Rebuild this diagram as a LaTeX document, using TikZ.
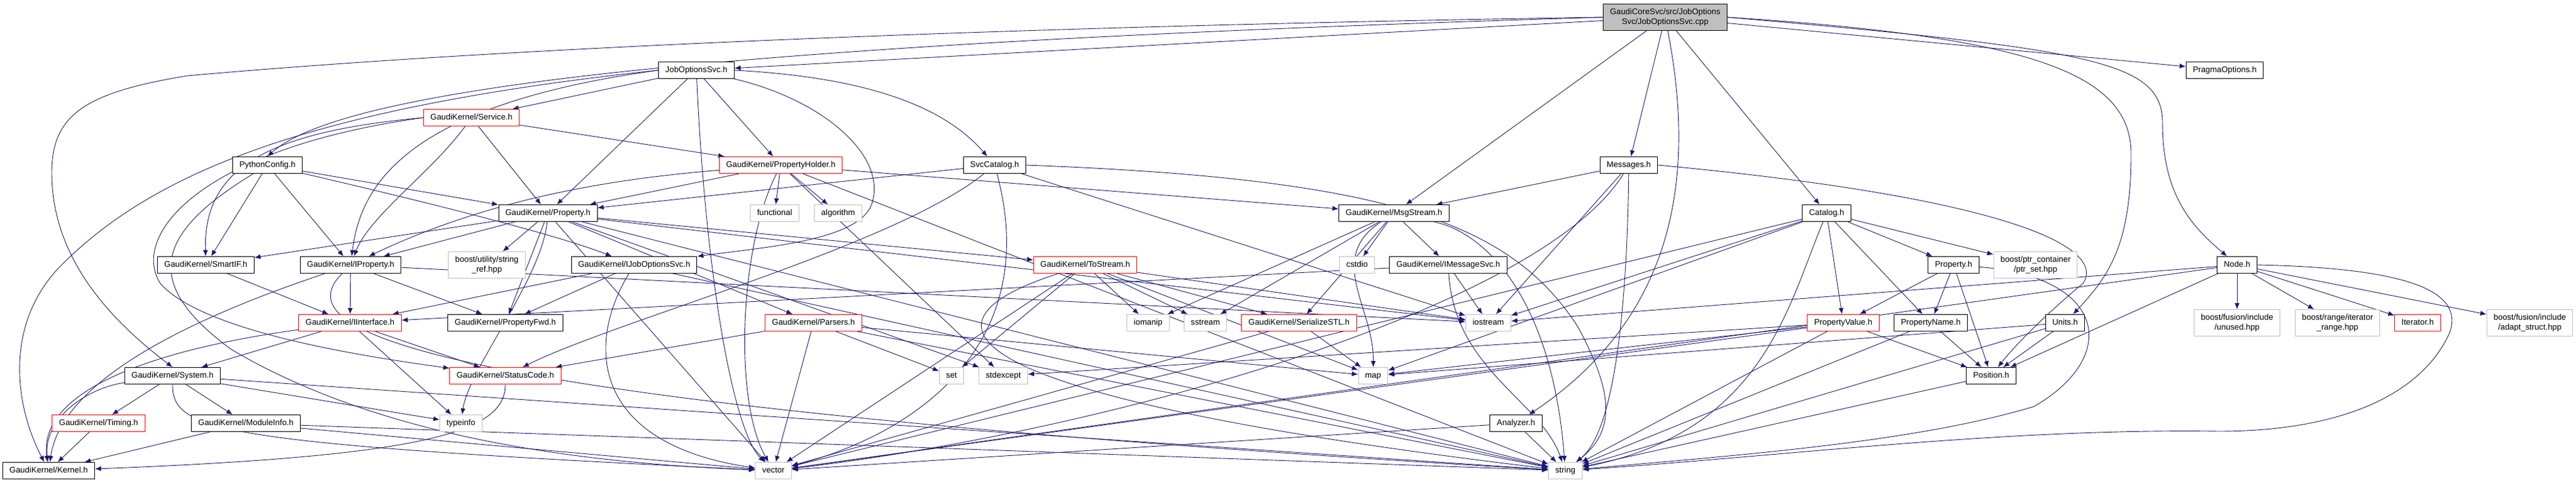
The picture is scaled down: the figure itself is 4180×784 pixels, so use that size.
\documentclass[tikz,border=0pt]{standalone}
\usepackage{fontspec}
\setmainfont{Liberation Sans}
\usetikzlibrary{arrows.meta}
\definecolor{edgeblue}{HTML}{191970}
\definecolor{extgray}{HTML}{BFBFBF}
\pgfdeclarelayer{edgelayer}
\pgfsetlayers{edgelayer,main}
\tikzset{
  filebase/.style={line width=1pt, fill=white, inner xsep=11pt, inner ysep=0pt, font=\fontsize{13.3}{16}\selectfont},
  file/.style={filebase, draw=black, minimum height=27pt, text height=10pt, text depth=3pt},
  trunc/.style={file, draw=red},
  ext/.style={file, draw=extgray},
  exttwo/.style={filebase, draw=extgray, align=center, minimum height=43pt},
  inc/.style={draw=edgeblue, line width=0.9pt, -{Latex[length=10pt,width=8pt]}},
}
\begin{document}
\begin{tikzpicture}[x=1pt,y=-1pt]
\useasboundingbox (0,0) rectangle (4180,784);

\node[filebase, draw=black, fill=extgray, align=center, minimum height=43pt] (root) at (2702,28) {GaudiCoreSvc/src/JobOptions\\Svc/JobOptionsSvc.cpp};
\node[file] (josh) at (1130,114) {JobOptionsSvc.h};
\node[file] (pragma) at (3610,114) {PragmaOptions.h};
\node[trunc] (service) at (765,191) {GaudiKernel/Service.h};
\node[file] (pyconf) at (434,268) {PythonConfig.h};
\node[trunc] (propholder) at (1267,268) {GaudiKernel/PropertyHolder.h};
\node[file] (svccat) at (1614,268) {SvcCatalog.h};
\node[file] (messages) at (2643,268) {Messages.h};
\node[file] (gkprop) at (889,346) {GaudiKernel/Property.h};
\node[ext] (functional) at (1257,346) {functional};
\node[ext] (algorithm) at (1360,346) {algorithm};
\node[file] (msgstream) at (2262,346) {GaudiKernel/MsgStream.h};
\node[file] (catalog) at (2964,346) {Catalog.h};
\node[file] (smartif) at (334,430) {GaudiKernel/SmartIF.h};
\node[file] (iprop) at (569,430) {GaudiKernel/IProperty.h};
\node[exttwo] (stringref) at (790,430) {boost/utility/string\\\_ref.hpp};
\node[file] (ijobopt) at (1029,430) {GaudiKernel/IJobOptionsSvc.h};
\node[trunc] (tostream) at (1761,430) {GaudiKernel/ToStream.h};
\node[ext] (cstdio) at (2202,430) {cstdio};
\node[file] (imsgsvc) at (2350,430) {GaudiKernel/IMessageSvc.h};
\node[file] (property) at (3170,430) {Property.h};
\node[exttwo] (ptrset) at (3303,430) {boost/ptr\_container\\/ptr\_set.hpp};
\node[file] (nodeh) at (3630,430) {Node.h};
\node[trunc] (iinterface) at (568,524) {GaudiKernel/IInterface.h};
\node[file] (propfwd) at (820,524) {GaudiKernel/PropertyFwd.h};
\node[trunc] (parsers) at (1320,524) {GaudiKernel/Parsers.h};
\node[ext] (iomanip) at (1863,524) {iomanip};
\node[ext] (sstream) at (1956,524) {sstream};
\node[trunc] (serialize) at (2108,524) {GaudiKernel/SerializeSTL.h};
\node[ext] (iostream) at (2415,524) {iostream};
\node[trunc] (propvalue) at (2991,524) {PropertyValue.h};
\node[file] (propname) at (3133,524) {PropertyName.h};
\node[file] (units) at (3351,524) {Units.h};
\node[exttwo] (unused) at (3630,524) {boost/fusion/include\\/unused.hpp};
\node[exttwo] (iterrange) at (3793,524) {boost/range/iterator\\\_range.hpp};
\node[trunc] (iterator) at (3923,524) {Iterator.h};
\node[exttwo] (adapt) at (4105,524) {boost/fusion/include\\/adapt\_struct.hpp};
\node[file] (system) at (280,610) {GaudiKernel/System.h};
\node[trunc] (statuscode) at (820,610) {GaudiKernel/StatusCode.h};
\node[ext] (set) at (1544,610) {set};
\node[ext] (stdexcept) at (1628,610) {stdexcept};
\node[ext] (map) at (2228,610) {map};
\node[file] (position) at (3231,610) {Position.h};
\node[trunc] (timing) at (160,687) {GaudiKernel/Timing.h};
\node[file] (modinfo) at (399,687) {GaudiKernel/ModuleInfo.h};
\node[ext] (typeinfo) at (748,687) {typeinfo};
\node[file] (analyzer) at (2460,687) {Analyzer.h};
\node[file] (kernel) at (79,764) {GaudiKernel/Kernel.h};
\node[ext] (vec) at (1255,764) {vector};
\node[ext] (str) at (2540,764) {string};

\begin{pgfonlayer}{edgelayer}
\draw[inc] (root) -- (josh);
\draw[inc] (root) -- (pragma);
\draw[inc] (root.west) .. controls (1200,70) and (560,140) .. (pyconf.north);
\draw[inc] (root.west) .. controls (1800,40) and (900,70) .. (304,123) .. controls (140,150) and (84,185) .. (84,280) .. controls (84,420) and (180,520) .. (system.north);
\draw[inc] (root) -- (msgstream);
\draw[inc] (root) -- (messages);
\draw[inc] (root) -- (catalog);
\draw[inc] (root) .. controls (2745,250) and (2740,500) .. (analyzer);
\draw[inc] (root.east) .. controls (3300,60) and (3458,120) .. (3458,250) .. controls (3458,400) and (3420,450) .. (units);
\draw[inc] (root.east) .. controls (3400,80) and (3509,100) .. (3509,200) .. controls (3509,320) and (3560,370) .. (nodeh);

\draw[inc] (josh) -- (service);
\draw[inc] (josh) -- (gkprop);
\draw[inc] (josh) -- (propholder);
\draw[inc] (josh) .. controls (1145,450) and (1190,700) .. (vec);
\draw[inc] (josh.east) .. controls (1400,125) and (1530,170) .. (svccat);
\draw[inc] (josh) .. controls (1330,160) and (1440,250) .. (1415,330) .. controls (1395,390) and (1250,400) .. (ijobopt);
\draw[inc] (josh.west) .. controls (500,175) and (250,280) .. (100,430) .. controls (10,520) and (20,650) .. (kernel);
\draw[inc] (josh.west) .. controls (660,170) and (585,300) .. (iprop);

\draw[inc] (service) -- (propholder);
\draw[inc] (service) -- (gkprop);
\draw[inc] (service) .. controls (700,280) and (600,350) .. (iprop);
\draw[inc] (service.west) .. controls (420,215) and (330,280) .. (smartif);
\draw[inc] (service.west) .. controls (330,240) and (210,380) .. (260,460) .. controls (330,540) and (600,580) .. (statuscode);

\draw[inc] (pyconf) -- (smartif);
\draw[inc] (pyconf) -- (iprop);
\draw[inc] (pyconf) -- (gkprop);
\draw[inc] (pyconf) .. controls (700,330) and (900,380) .. (ijobopt);
\draw[inc] (pyconf) .. controls (250,380) and (230,460) .. (375,567) .. controls (600,700) and (900,750) .. (vec);

\draw[inc] (propholder) -- (functional);
\draw[inc] (propholder) -- (algorithm);
\draw[inc] (propholder) -- (gkprop);
\draw[inc] (propholder) .. controls (1000,290) and (800,320) .. (iprop);
\draw[inc] (propholder) .. controls (1200,400) and (1190,650) .. (vec);
\draw[inc] (propholder) -- (msgstream);
\draw[inc] (propholder) -- (stdexcept);
\draw[inc] (propholder) -- (str);

\draw[inc] (svccat) -- (gkprop);
\draw[inc] (svccat) .. controls (1450,400) and (1000,520) .. (statuscode);
\draw[inc] (svccat) .. controls (1690,550) and (1500,700) .. (vec);
\draw[inc] (svccat) -- (iostream);
\draw[inc] (svccat.east) .. controls (2250,290) and (2450,360) .. (2560,530) .. controls (2620,640) and (2620,700) .. (str);

\draw[inc] (gkprop) -- (smartif);
\draw[inc] (gkprop) -- (iprop);
\draw[inc] (gkprop) -- (stringref);
\draw[inc] (gkprop) -- (propfwd);
\draw[inc] (gkprop) -- (tostream);
\draw[inc] (gkprop) -- (parsers);
\draw[inc] (gkprop) .. controls (880,450) and (760,600) .. (typeinfo);
\draw[inc] (gkprop) -- (stdexcept);
\draw[inc] (gkprop) -- (vec);
\draw[inc] (gkprop) -- (str);
\draw[inc] (gkprop) -- (iostream);

\draw[inc] (msgstream) -- (iomanip);
\draw[inc] (msgstream) -- (sstream);
\draw[inc] (msgstream) -- (serialize);
\draw[inc] (msgstream) .. controls (2150,420) and (2230,500) .. (map);
\draw[inc] (msgstream) -- (cstdio);
\draw[inc] (msgstream) -- (imsgsvc);
\draw[inc] (msgstream) .. controls (2420,380) and (2520,500) .. (str);

\draw[inc] (messages) -- (msgstream);
\draw[inc] (messages) -- (iostream);
\draw[inc] (messages) .. controls (2640,500) and (2620,700) .. (str);
\draw[inc] (messages) .. controls (2500,500) and (1800,700) .. (vec);
\draw[inc] (messages.east) .. controls (3250,320) and (3420,400) .. (3380,460) .. controls (3320,510) and (3270,560) .. (position);

\draw[inc] (catalog) -- (propvalue);
\draw[inc] (catalog) -- (propname);
\draw[inc] (catalog) -- (property);
\draw[inc] (catalog) -- (ptrset);
\draw[inc] (catalog) -- (iostream);
\draw[inc] (catalog) -- (map);
\draw[inc] (catalog) -- (vec);
\draw[inc] (catalog) .. controls (2900,500) and (2860,700) .. (str);

\draw[inc] (ijobopt) -- (iinterface);
\draw[inc] (ijobopt) -- (propfwd);
\draw[inc] (ijobopt) .. controls (950,560) and (960,720) .. (vec);
\draw[inc] (ijobopt) -- (str);

\draw[inc] (imsgsvc) -- (iinterface);
\draw[inc] (imsgsvc) -- (iostream);
\draw[inc] (imsgsvc) .. controls (2360,600) and (2500,650) .. (str);

\draw[inc] (tostream) -- (iomanip);
\draw[inc] (tostream) -- (sstream);
\draw[inc] (tostream) -- (serialize);
\draw[inc] (tostream) -- (set);
\draw[inc] (tostream) -- (map);
\draw[inc] (tostream) -- (iostream);
\draw[inc] (tostream) -- (vec);
\draw[inc] (tostream) .. controls (1480,520) and (1500,640) .. (str);

\draw[inc] (smartif) -- (iinterface);
\draw[inc] (iprop) -- (iinterface);
\draw[inc] (iprop) -- (propfwd);
\draw[inc] (iprop) -- (iostream);
\draw[inc] (iprop) .. controls (300,520) and (100,620) .. (kernel);
\draw[inc] (iprop) .. controls (470,530) and (600,650) .. (str);
\draw[inc] (iinterface) -- (system);
\draw[inc] (iinterface) -- (statuscode);
\draw[inc] (iinterface) -- (typeinfo);
\draw[inc] (iinterface) .. controls (300,560) and (60,620) .. (kernel);

\draw[inc] (parsers) -- (statuscode);
\draw[inc] (parsers) -- (vec);
\draw[inc] (parsers) -- (set);
\draw[inc] (parsers) -- (map);
\draw[inc] (parsers) -- (str);
\draw[inc] (serialize) -- (map);
\draw[inc] (serialize) -- (vec);

\draw[inc] (property) -- (propvalue);
\draw[inc] (property) -- (propname);
\draw[inc] (property) -- (position);
\draw[inc] (property) .. controls (3420,450) and (3440,580) .. (3300,660) .. controls (3100,720) and (2800,740) .. (str);
\draw[inc] (propvalue) -- (position);
\draw[inc] (propvalue) -- (map);
\draw[inc] (propvalue) -- (stdexcept);
\draw[inc] (propvalue) -- (vec);
\draw[inc] (propvalue) -- (str);
\draw[inc] (propname) -- (position);
\draw[inc] (propname) -- (str);
\draw[inc] (units) -- (position);
\draw[inc] (units) -- (map);
\draw[inc] (units) -- (str);
\draw[inc] (position) -- (str);

\draw[inc] (nodeh) -- (unused);
\draw[inc] (nodeh) -- (iterrange);
\draw[inc] (nodeh) -- (iterator);
\draw[inc] (nodeh) -- (adapt);
\draw[inc] (nodeh) -- (iostream);
\draw[inc] (nodeh) -- (position);
\draw[inc] (nodeh) -- (vec);
\draw[inc] (nodeh.east) .. controls (3900,435) and (4000,470) .. (3975,540) .. controls (3930,640) and (3800,700) .. (3600,700) .. controls (3250,695) and (2900,740) .. (str);

\draw[inc] (system) -- (timing);
\draw[inc] (system) -- (modinfo);
\draw[inc] (system) -- (typeinfo);
\draw[inc] (system) .. controls (140,630) and (70,680) .. (kernel);
\draw[inc] (system) .. controls (280,700) and (350,720) .. (vec);
\draw[inc] (system) -- (str);
\draw[inc] (timing) -- (kernel);
\draw[inc] (modinfo) -- (kernel);
\draw[inc] (modinfo) -- (vec);
\draw[inc] (modinfo) -- (str);
\draw[inc] (statuscode) .. controls (820,700) and (700,740) .. (kernel);
\draw[inc] (analyzer) -- (str);
\draw[inc] (analyzer) -- (vec);
\end{pgfonlayer}
\end{tikzpicture}
\end{document}
